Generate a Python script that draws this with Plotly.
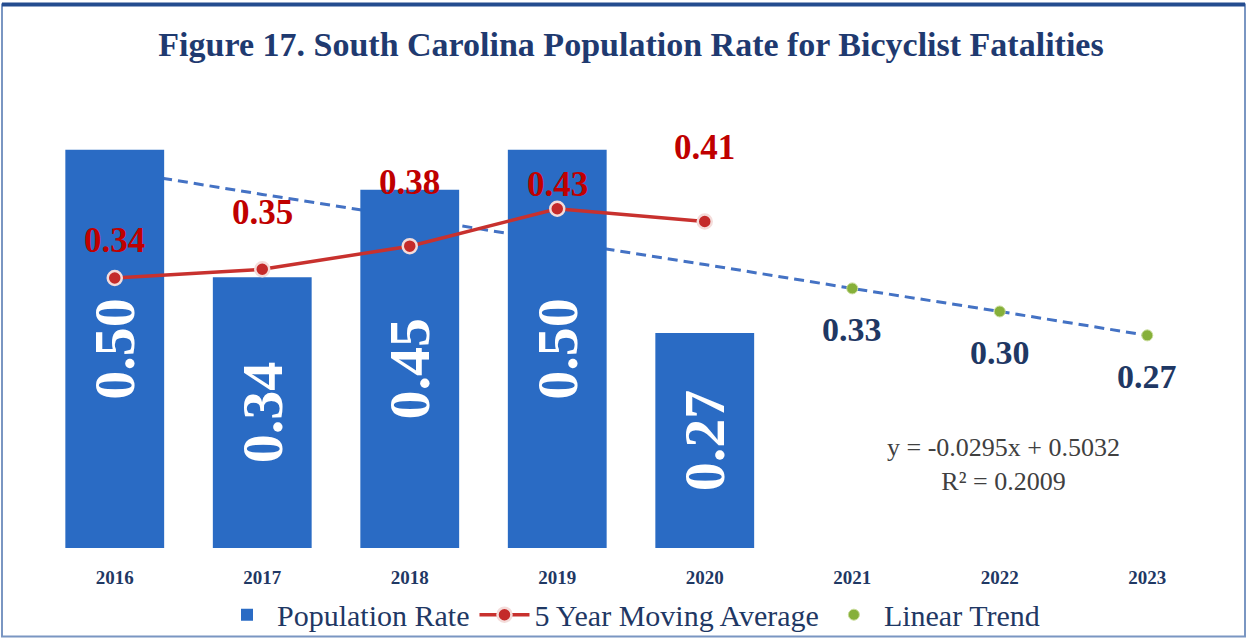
import plotly.graph_objects as go

# data
years = ["2016", "2017", "2018", "2019", "2020", "2021", "2022", "2023"]
bar_years = years[:5]
population_rate = [0.50, 0.34, 0.45, 0.50, 0.27]
moving_avg = [0.339, 0.350, 0.379, 0.426, 0.410]
trend_line = [0.474, 0.444, 0.415, 0.385, 0.356, 0.326, 0.297, 0.267]
trend_years = years[5:]
trend_points = trend_line[5:]
equation = "y = -0.0295x + 0.5032"
r_squared = "R² = 0.2009"

# label offsets (px) above the moving-average markers, as placed in the source
ma_label_shift = [37, 56, 63, 24, 73]

SERIF = "Liberation Serif, Times New Roman, serif"
NAVY = "#1F3864"

# layout measured in reference pixels (1247 x 642)
REF_H = 642
ML, MR, MT, MB = 41, 26, 108, 94
W = 1247
H = 653                      # the capture squeezes the page height slightly
SY = H / REF_H
PW = W - ML - MR
PH_REF = REF_H - MT - MB


def py(y_px):
    # reference pixel row -> paper fraction
    return (REF_H - MB - y_px) / PH_REF


fig = go.Figure()

# trend line sits on the base axes so bars (overlay axes) hide it
fig.add_trace(go.Scatter(
    x=years, y=trend_line, mode="lines", showlegend=False, hoverinfo="skip",
    line=dict(color="#4472C4", width=3, dash="10px,6px"),
    xaxis="x", yaxis="y"
))

fig.add_trace(go.Bar(
    x=bar_years, y=population_rate, name="Population Rate",
    marker=dict(color="#2A6BC4", line=dict(width=0)),
    texttemplate="%{y:.2f}", textposition="inside", insidetextanchor="middle",
    textangle=-90, textfont=dict(family=SERIF, size=58, color="white", weight="bold"),
    xaxis="x2", yaxis="y2"
))

fig.add_trace(go.Scatter(
    x=bar_years, y=moving_avg, mode="lines+markers", name="5 Year Moving Average",
    line=dict(color="#C8312E", width=3.5),
    marker=dict(size=14, color="#C42A2A", line=dict(color="#F4DCDA", width=2.5)),
    xaxis="x2", yaxis="y2"
))

fig.add_trace(go.Scatter(
    x=trend_years, y=trend_points, mode="markers", name="Linear Trend",
    marker=dict(size=11, color="#86B03A", line=dict(color="#C9DC9A", width=1)),
    xaxis="x2", yaxis="y2"
))

annotations = []
for yr, v, dy in zip(bar_years, moving_avg, ma_label_shift):
    annotations.append(dict(
        x=years.index(yr), y=v, xref="x", yref="y", text=f"{v:.2f}", showarrow=False,
        xanchor="center", yanchor="middle", yshift=dy * SY,
        font=dict(family=SERIF, size=35, color="#C00000", weight="bold")
    ))
for yr, v in zip(trend_years, trend_points):
    annotations.append(dict(
        x=years.index(yr), y=v, xref="x", yref="y", text=f"{v:.2f}", showarrow=False,
        xanchor="center", yanchor="middle", yshift=-40 * SY,
        font=dict(family=SERIF, size=34, color=NAVY, weight="bold")
    ))
annotations.append(dict(
    x=(1003 - ML) / PW, y=py(464), xref="paper", yref="paper",
    xanchor="center", yanchor="middle",
    text=f"{equation}<br>{r_squared}", showarrow=False, align="center",
    font=dict(family=SERIF, size=26, color="#404040")
))

yrange = [0, 0.55]
fig.update_layout(
    width=W, height=H,
    margin=dict(l=ML, r=MR, t=round(MT * SY), b=H - round(MT * SY) - round(PH_REF * SY)),
    paper_bgcolor="white", plot_bgcolor="white",
    title=dict(
        text="Figure 17. South Carolina Population Rate for Bicyclist Fatalities",
        x=0.5, xref="paper", xanchor="center", y=1 - 43 / REF_H, yanchor="middle",
        font=dict(family=SERIF, size=34, color="#1F3A70", weight="bold")
    ),
    xaxis=dict(
        type="category", categoryorder="array", categoryarray=years,
        range=[-0.5, 7.5], showgrid=False, showline=False, zeroline=False,
        ticks="", ticklabelstandoff=round(16 * SY),
        tickfont=dict(family=SERIF, size=19, color=NAVY, weight="bold")
    ),
    yaxis=dict(range=yrange, visible=False, showgrid=False, zeroline=False),
    xaxis2=dict(
        type="category", categoryorder="array", categoryarray=years,
        range=[-0.5, 7.5], overlaying="x", visible=False
    ),
    yaxis2=dict(range=yrange, overlaying="y", visible=False),
    bargap=0.33,
    showlegend=True,
    legend=dict(
        orientation="h", x=0.5, xanchor="center", y=py(615),
        yanchor="middle", font=dict(family=SERIF, size=30, color=NAVY),
        bgcolor="rgba(0,0,0,0)", itemwidth=50, traceorder="normal"
    ),
    annotations=annotations,
    shapes=[
        dict(type="rect", xref="paper", yref="paper",
             x0=-(ML - 2) / PW, x1=1 + (MR - 2) / PW,
             y0=py(637), y1=py(2),
             line=dict(color="#7A96C2", width=2)),
        dict(type="line", xref="paper", yref="paper",
             x0=-(ML - 2) / PW, x1=1 + (MR - 2) / PW,
             y0=py(2), y1=py(2),
             line=dict(color="#244C8F", width=4)),
    ],
)

# pin the chart to the top-left corner of the page
page_fix = (
    "document.body.style.margin='0px';"
    "document.documentElement.style.overflow='hidden';"
    "var d=document.getElementsByClassName('plotly-graph-div')[0];"
    "d.style.position='fixed';d.style.top='0px';d.style.left='0px';"
)
fig.write_html("out.html", config={"displayModeBar": False}, post_script=page_fix)
